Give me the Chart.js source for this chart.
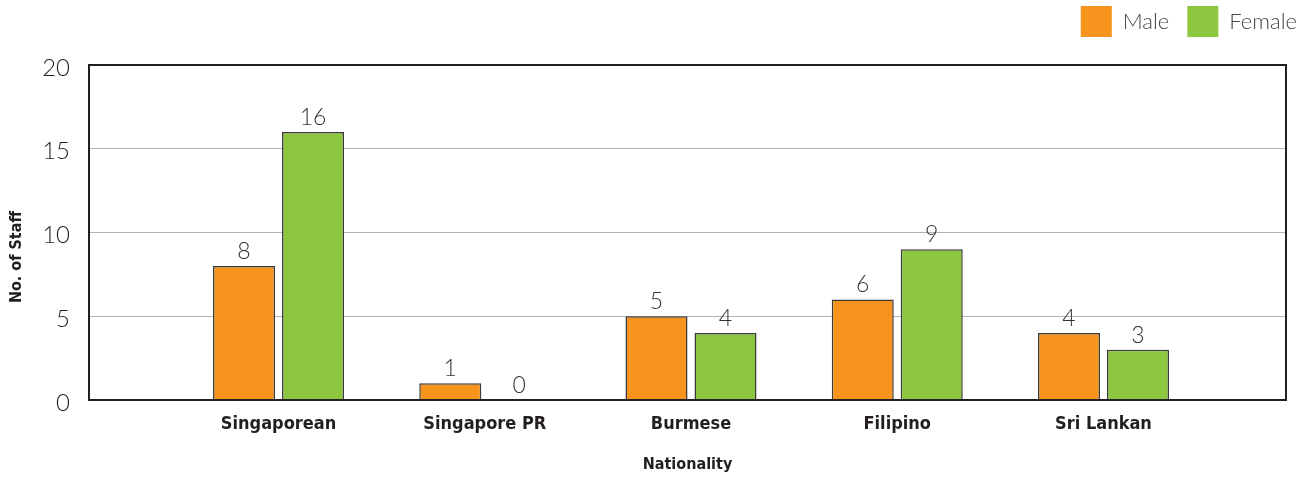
<!DOCTYPE html>
<html>
<head>
<meta charset="utf-8">
<script src="https://cdn.jsdelivr.net/npm/chart.js@4.4.1/dist/chart.umd.min.js"></script>
<style>
  html, body { margin: 0; padding: 0; background: #fff; }
  #wrap { width: 1306px; height: 479px; position: relative; }
</style>
</head>
<body>
<div id="wrap"><canvas id="chart"></canvas></div>
<script>
const categories = ['Singaporean', 'Singapore PR', 'Burmese', 'Filipino', 'Sri Lankan'];
const maleCounts = [8, 1, 5, 6, 4];
const femaleCounts = [16, 0, 4, 9, 3];
const yTicks = [0, 5, 10, 15, 20];

const narrow = "'Liberation Sans Narrow', 'DejaVu Sans Condensed', sans-serif";
const light = "Lato, 'Open Sans', sans-serif";
const ink = '#231f20';

// bar labels on top of each bar
const valueLabels = {
  id: 'valueLabels',
  afterDatasetsDraw(chart) {
    const ctx = chart.ctx;
    ctx.save();
    ctx.font = '300 23px ' + light;
    ctx.fillStyle = '#333';
    ctx.textAlign = 'center';
    ctx.textBaseline = 'bottom';
    chart.data.datasets.forEach((ds, i) => {
      chart.getDatasetMeta(i).data.forEach((bar, j) => {
        ctx.fillText(String(ds.data[j].y), bar.x, bar.y - 3);
      });
    });
    ctx.restore();
  }
};

// y axis title sits a bit below the centre in the original
const yTitle = {
  id: 'yTitle',
  afterDraw(chart) {
    const ctx = chart.ctx;
    ctx.save();
    ctx.translate(17, 257);
    ctx.rotate(-Math.PI / 2);
    ctx.font = 'bold 16px ' + narrow;
    ctx.fillStyle = ink;
    ctx.textAlign = 'center';
    ctx.textBaseline = 'middle';
    ctx.fillText('No. of Staff', 0, 0);
    ctx.restore();
  }
};

// legend sits higher and further right than chart.js puts it
const nudgeLegend = {
  id: 'nudgeLegend',
  afterLayout(chart) {
    const lg = chart.legend;
    if (!lg) return;
    lg.top -= 18; lg.bottom -= 18;
    lg.left += 21; lg.right += 21;
  }
};

const ctx = document.getElementById('chart').getContext('2d');
new Chart(ctx, {
  type: 'bar',
  data: {
    datasets: [
      {
        label: 'Male',
        data: maleCounts.map((v, i) => ({ x: i, y: v })),
        backgroundColor: '#f7941d',
        borderColor: '#3a3a3a',
        borderWidth: 1.5,
      },
      {
        label: 'Female',
        data: femaleCounts.map((v, i) => ({ x: i, y: v })),
        backgroundColor: '#8dc63f',
        borderColor: '#3a3a3a',
        borderWidth: 1.5,
      },
    ],
  },
  options: {
    responsive: true,
    maintainAspectRatio: false,
    animation: false,
    categoryPercentage: 0.669,
    barPercentage: 0.899,
    layout: { padding: { top: 0, right: 12, bottom: 0, left: 0 } },
    scales: {
      x: {
        type: 'linear',
        min: -0.919,
        max: 4.885,
        offset: false,
        grid: { display: false, offset: false, drawTicks: false },
        border: { display: true, color: ink, width: 2 },
        ticks: {
          stepSize: 1,
          includeBounds: false,
          autoSkip: false,
          maxRotation: 0,
          padding: 14,
          color: ink,
          font: { family: narrow, size: 18, weight: 'bold' },
          callback: (v) => (Number.isInteger(v) && categories[v] !== undefined ? categories[v] : ''),
        },
        title: {
          display: true,
          text: 'Nationality',
          color: ink,
          font: { family: narrow, size: 16, weight: 'bold' },
          padding: { top: 8, bottom: 5 },
        },
        afterFit: (scale) => { scale.height = 79; },
      },
      y: {
        min: 0,
        max: 20,
        afterBuildTicks: (scale) => { scale.ticks = yTicks.map((v) => ({ value: v })); },
        grid: {
          drawTicks: false,
          tickLength: 0,
          color: (c) => (c.tick.value === 0 || c.tick.value === 20 ? ink : '#b3b3b3'),
          lineWidth: (c) => (c.tick.value === 0 || c.tick.value === 20 ? 2 : 1),
        },
        border: { display: true, color: ink, width: 2 },
        ticks: {
          padding: 19,
          labelOffset: 3,
          color: ink,
          font: { family: light, size: 24, weight: '300' },
        },
        afterFit: (scale) => { scale.width = 89; scale.paddingTop = 65; },
      },
      y2: {
        position: 'right',
        min: 0,
        max: 20,
        grid: { display: false, drawTicks: false },
        border: { display: true, color: ink, width: 2 },
        ticks: { display: false },
        afterFit: (scale) => { scale.width = 8; },
      },
    },
    plugins: {
      legend: {
        position: 'top',
        align: 'end',
        labels: {
          boxWidth: 31,
          boxHeight: 31,
          padding: 18,
          color: '#444',
          font: { family: light, size: 22, weight: '300' },
          generateLabels: (chart) =>
            Chart.defaults.plugins.legend.labels.generateLabels(chart).map((l) => ({ ...l, lineWidth: 0 })),
        },
      },
      tooltip: { enabled: false },
    },
  },
  plugins: [valueLabels, yTitle, nudgeLegend],
});
</script>
</body>
</html>
